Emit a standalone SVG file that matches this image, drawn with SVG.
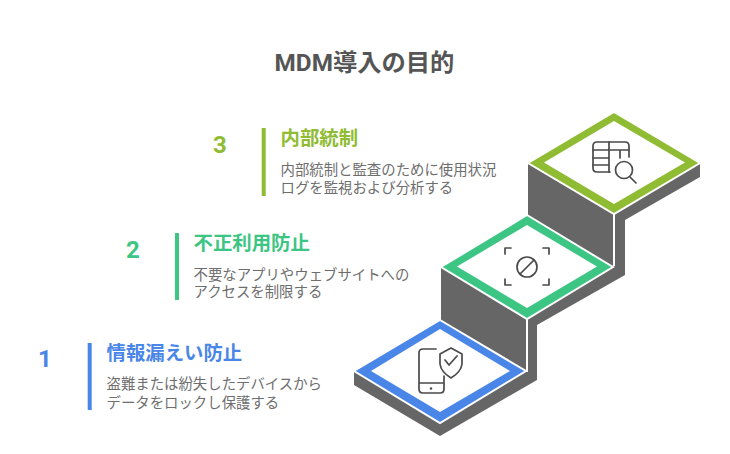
<svg xmlns="http://www.w3.org/2000/svg" width="730" height="454" viewBox="0 0 730 454">
<style>
text{font-family:"Roboto","Noto Sans CJK JP",sans-serif}
.t{font-size:24.300px;font-weight:700;fill:#555;text-anchor:middle}
.n{font-size:24px;font-weight:700;text-anchor:middle}
.h{font-size:19.400px;font-weight:700}
.d{font-size:14.400px;fill:#6e6e6e}
.ic{fill:none;stroke:#4a4a4a;stroke-width:1.700;stroke-linecap:round;stroke-linejoin:round}
.blue{fill:#4a86e8}.green{fill:#3cc583}.olive{fill:#8fbc33}
</style>
<rect width="730" height="454" fill="#fff"/>
<text class="t" x="364.500" y="71">MDM導入の目的</text>
<g id="connectors"></g>
<g id="stairs">
<path d="M354 373V385L440 436L537 380V325L625 275V220L700 177V164L614 112L528 163V216L441 268V320L354 371Z" fill="#666"/>
<path d="M527 318V372M614 212V266" stroke="#fff" stroke-width="2" fill="none"/>
</g>
<g id="step1">
<path class="blue" d="M440 320L526 371L440 423L354 371Z" stroke="#fff" stroke-width="2"/>
<path fill="#fff" d="M440 329L510 371L440 412L371 371Z"/>
<g class="ic"><path d="M436 349H423Q419 349 419 353V389Q419 393 423 393H440Q444 393 444 389V376M419 383H444"/><path d="M440 354L451 348L462 354V364Q461 372 451 378Q441 372 440 364Z"/><path d="M445 360L449 365L457 356"/></g>
<circle cx="431" cy="388.500" r="1.200" fill="#4a4a4a"/>
<rect class="blue" x="87.700" y="343" width="4" height="67"/>
<text class="n blue" x="45" y="367">1</text>
<text class="h blue" x="106.500" y="360">情報漏えい防止</text>
<text class="d" x="106.500" y="389">盗難または紛失したデバイスから</text>
<text class="d" x="106.500" y="408">データをロックし保護する</text>
</g>
<g id="step2">
<path class="green" d="M527 215L613 267L527 319L441 267Z" stroke="#fff" stroke-width="2"/>
<path fill="#fff" d="M527 225L597 266.500L527 308L457 266.500Z"/>
<g class="ic"><path d="M505 254V248H511M543 248H549V254M505 279V285H511M543 285H549V279"/><circle cx="527" cy="267" r="10"/><path d="M520 274L534 260"/></g>
<rect class="green" x="175" y="233" width="4" height="67"/>
<text class="n green" x="133" y="258">2</text>
<text class="h green" x="193.500" y="250">不正利用防止</text>
<text class="d" x="193.500" y="280">不要なアプリやウェブサイトへの</text>
<text class="d" x="193.500" y="297">アクセスを制限する</text>
</g>
<g id="step3">
<path class="olive" d="M614 112L700 163L614 214L528 163Z" stroke="#fff" stroke-width="2"/>
<path fill="#fff" d="M614 121L685 162.500L614 204L544 162.500Z"/>
<g class="ic"><path d="M610 172H597Q593 172 593 168V146Q593 142 597 142H625Q629 142 629 146V157"/><path d="M593 150H629M593 158H609M593 165H609M609 142V172M620 150V158"/><circle cx="624" cy="170" r="8.500"/><path d="M630 177L636 183"/></g>
<rect class="olive" x="261.700" y="128" width="4" height="68"/>
<text class="n olive" x="220" y="153">3</text>
<text class="h olive" x="280.500" y="145">内部統制</text>
<text class="d" x="280.500" y="175">内部統制と監査のために使用状況</text>
<text class="d" x="280.500" y="193">ログを監視および分析する</text>
</g>
</svg>
